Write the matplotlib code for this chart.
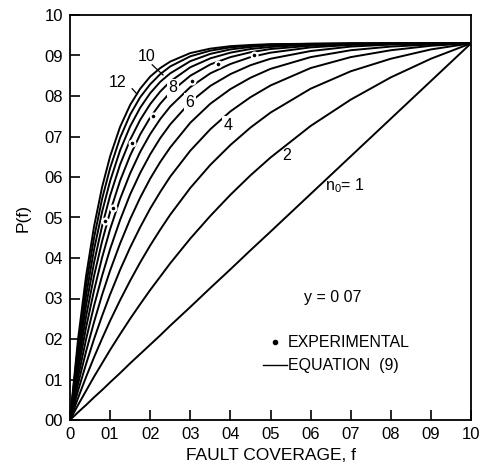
import matplotlib
matplotlib.use("Agg")
import matplotlib.pyplot as plt

plt.rcParams['font.family'] = ['Liberation Sans', 'DejaVu Sans']
plt.rcParams['mathtext.default'] = 'regular'

# fault coverage grid
f = [0, 0.02, 0.04, 0.06, 0.08, 0.10, 0.125, 0.15, 0.175, 0.20, 0.225, 0.25,
     0.30, 0.35, 0.40, 0.45, 0.50, 0.60, 0.70, 0.80, 0.90, 1.00]

# P(f) curves for n0 = 1 .. 12 (y = 0.07)
p_n1 = [0, .019, .037, .056, .074, .093, .116, .140, .163, .186, .209, .233,
        .279, .326, .372, .419, .465, .558, .651, .744, .837, .930]
p_n2 = [0, .037, .072, .107, .140, .173, .212, .250, .286, .321, .354, .387,
        .448, .504, .556, .604, .648, .726, .791, .846, .892, .930]
p_n3 = [0, .054, .106, .155, .201, .245, .296, .344, .389, .431, .470, .507,
        .573, .630, .679, .722, .759, .818, .861, .892, .915, .930]
p_n4 = [0, .072, .138, .200, .257, .310, .371, .426, .476, .522, .563, .601,
        .665, .718, .762, .797, .826, .869, .896, .913, .924, .930]
p_n5 = [0, .089, .169, .242, .309, .369, .436, .496, .549, .596, .637, .673,
        .734, .781, .817, .845, .867, .896, .913, .922, .927, .930]
p_n6 = [0, .105, .199, .282, .356, .422, .494, .557, .610, .656, .696, .730,
        .785, .825, .854, .876, .892, .911, .922, .927, .929, .930]
p_n7 = [0, .122, .228, .320, .401, .471, .546, .609, .662, .706, .743, .774,
        .822, .856, .879, .896, .907, .920, .926, .928, .930, .930]
p_n8 = [0, .138, .255, .356, .441, .514, .591, .653, .705, .747, .781, .809,
        .850, .878, .896, .908, .916, .924, .928, .929, .930, .930]
p_n9 = [0, .153, .282, .389, .479, .554, .631, .692, .741, .780, .811, .836,
        .871, .893, .907, .916, .921, .927, .929, .930, .930, .930]
p_n10 = [0, .169, .307, .421, .514, .590, .666, .725, .771, .807, .835, .856,
         .886, .904, .915, .921, .925, .928, .929, .930, .930, .930]
p_n11 = [0, .184, .332, .450, .546, .622, .697, .754, .797, .829, .854, .873,
         .898, .912, .920, .924, .927, .929, .930, .930, .930, .930]
p_n12 = [0, .199, .355, .478, .575, .651, .724, .778, .818, .848, .869, .885,
         .906, .917, .923, .926, .928, .929, .930, .930, .930, .930]
curves = [p_n1, p_n2, p_n3, p_n4, p_n5, p_n6, p_n7, p_n8, p_n9, p_n10, p_n11, p_n12]

# experimental points
exp_f = [0.087, 0.107, 0.155, 0.207, 0.304, 0.369, 0.459]
exp_p = [0.491, 0.523, 0.684, 0.751, 0.837, 0.879, 0.901]

xticks = [0, 0.1, 0.2, 0.3, 0.4, 0.5, 0.6, 0.7, 0.8, 0.9, 1.0]
xticklabels = ["0", "01", "02", "03", "04", "05", "06", "07", "08", "09", "10"]
yticks = [0, 0.1, 0.2, 0.3, 0.4, 0.5, 0.6, 0.7, 0.8, 0.9, 1.0]
yticklabels = ["00", "01", "02", "03", "04", "05", "06", "07", "08", "09", "10"]

fig = plt.figure(figsize=(4.83, 4.65), dpi=100)
ax = fig.add_axes([70/483, 45/465, 401/483, 405/465])

for c in curves:
    ax.plot(f, c, color='black', lw=1.4, solid_capstyle='butt')

ax.plot(exp_f, exp_p, linestyle='none', marker='o', ms=4.2, mfc='black',
        mec='white', mew=1.6, zorder=5)

ax.set_xlim(0, 1.0)
ax.set_ylim(0, 1.0)
ax.set_xticks(xticks)
ax.set_xticklabels(xticklabels, fontsize=12)
ax.set_yticks(yticks)
ax.set_yticklabels(yticklabels, fontsize=12)
ax.tick_params(direction='in', length=7, width=1.2, pad=5, color='black')
for s in ax.spines.values():
    s.set_linewidth(1.3)

ax.set_xlabel("FAULT COVERAGE, f", fontsize=12.5, labelpad=4)
ax.set_ylabel("P(f)", fontsize=12.5, labelpad=10)

bb = dict(boxstyle='square,pad=0.08', fc='white', ec='none')
ax.text(0.541, 0.654, "2", fontsize=11.5, ha='center', va='center')
ax.text(0.686, 0.578, "n$_0$= 1", fontsize=11.5, ha='center', va='center')
ax.text(0.394, 0.728, "4", fontsize=11.5, ha='center', va='center', bbox=bb)
ax.text(0.299, 0.785, "6", fontsize=11.5, ha='center', va='center', bbox=bb)
ax.text(0.257, 0.820, "8", fontsize=11.5, ha='center', va='center', bbox=bb)
ax.text(0.192, 0.898, "10", fontsize=11.5, ha='center', va='center')
ax.plot([0.205, 0.232], [0.877, 0.852], color='black', lw=0.9)
ax.text(0.118, 0.834, "12", fontsize=11.5, ha='center', va='center')
ax.plot([0.155, 0.167], [0.818, 0.805], color='black', lw=0.9)

ax.text(0.655, 0.303, "y = 0 07", fontsize=11.5, ha='center', va='center')
ax.plot([0.512], [0.192], marker='o', ms=3, color='black')
ax.text(0.543, 0.192, "EXPERIMENTAL", fontsize=11.5, ha='left', va='center')
ax.plot([0.482, 0.540], [0.135, 0.135], color='black', lw=1.0)
ax.text(0.543, 0.135, "EQUATION  (9)", fontsize=11.5, ha='left', va='center')

fig.savefig("out.png", dpi=100)
